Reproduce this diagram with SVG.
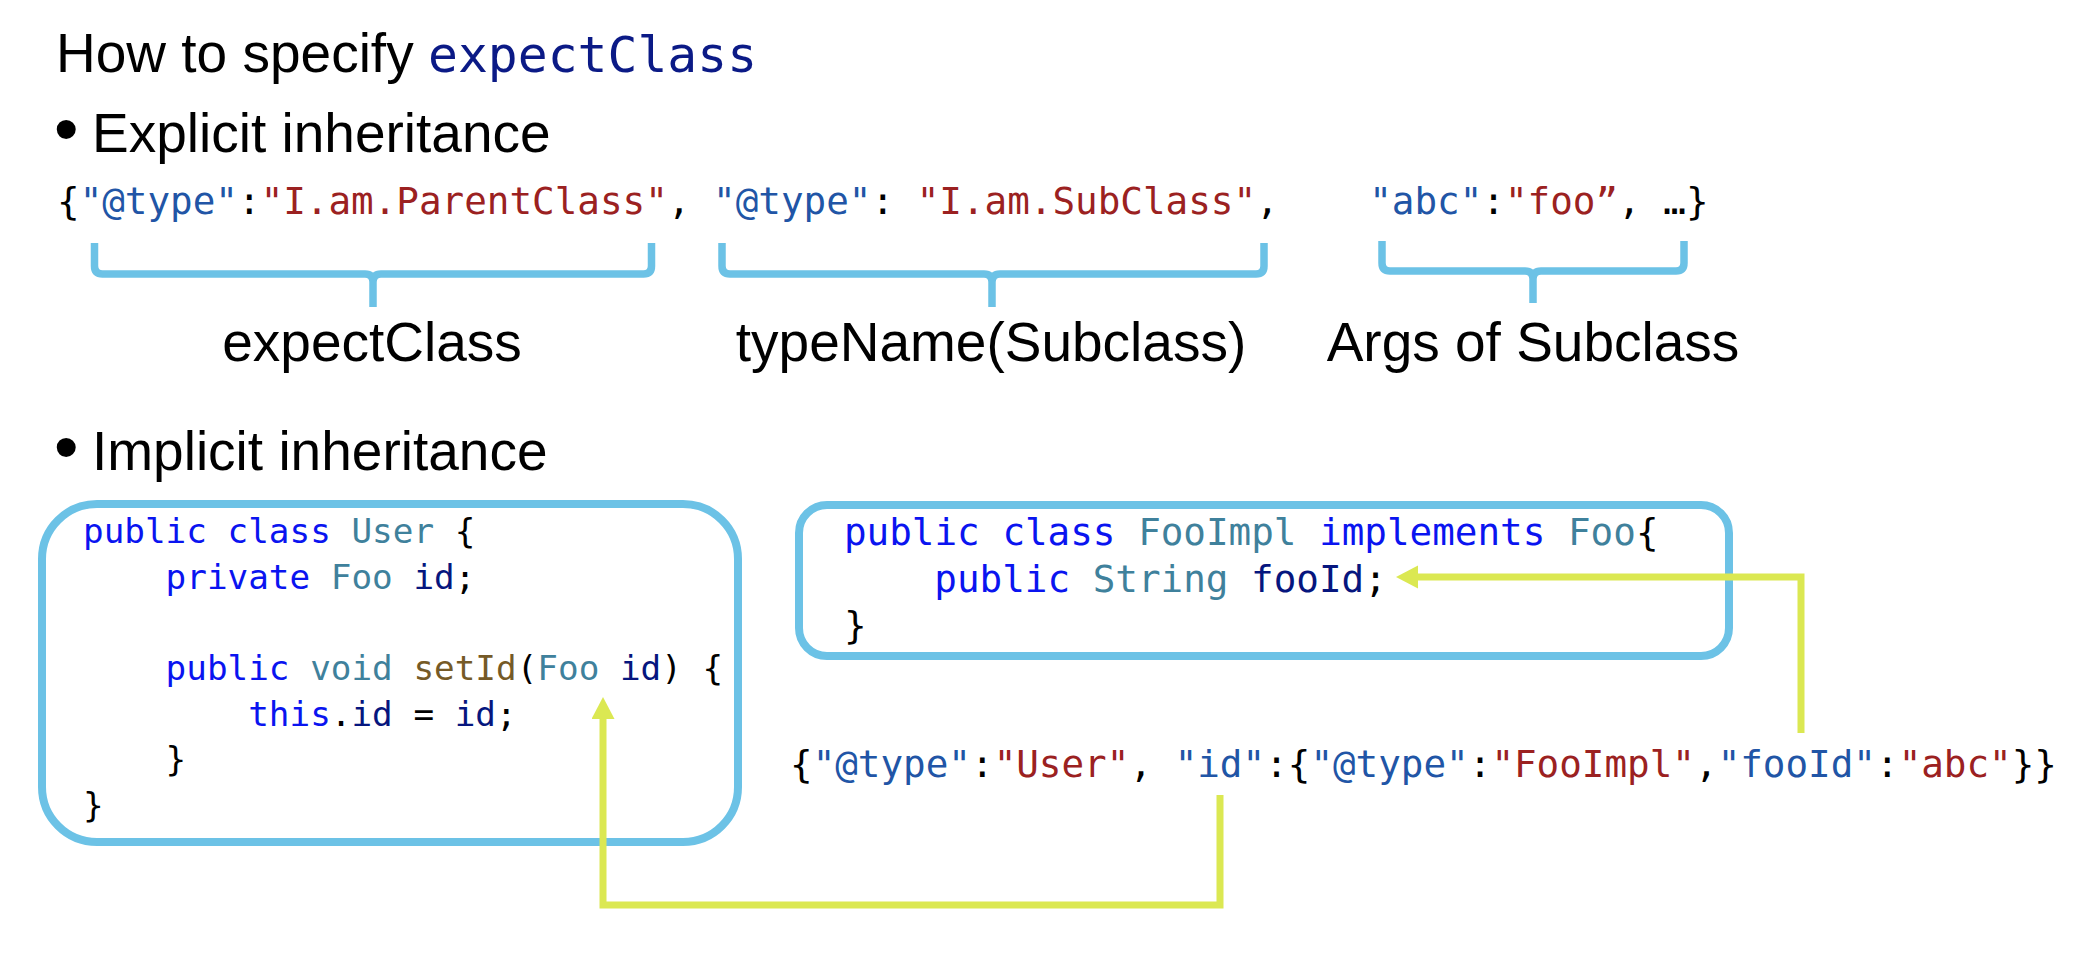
<svg xmlns="http://www.w3.org/2000/svg" width="2094" height="958" viewBox="0 0 2094 958">
<style>
.sans{font-family:"Liberation Sans",Arial,sans-serif;fill:#000}
.h{font-size:55px}
.lbl{font-size:55px;text-anchor:middle}
.mono{font-family:"DejaVu Sans Mono","Liberation Mono",monospace;fill:#000}
.j{font-size:37.6px}
.c{font-size:34.3px}
.navy{fill:#0b1a86;font-size:49.7px}
.key{fill:#2155a6}
.str{fill:#9b2121}
.kw{fill:#0a14f0}
.ty{fill:#3f819c}
.id{fill:#06167e}
.fn{fill:#755a27}
.brace{fill:none;stroke:#6cc2e6;stroke-width:7.5;stroke-linejoin:round}
.box{fill:none;stroke:#6cc2e6;stroke-width:8}
.conn{fill:none;stroke:#dbe852;stroke-width:7;stroke-linejoin:miter;stroke-linecap:butt}
</style>
<defs>
<marker id="ah" markerUnits="userSpaceOnUse" markerWidth="24" markerHeight="24" refX="10" refY="11.5" orient="auto" viewBox="0 0 24 24">
<path d="M0,0 L22,11.5 L0,23 z" fill="#dbe852"/>
</marker>
</defs>
<rect width="2094" height="958" fill="#fff"/>

<g id="title">
<text class="sans h" x="56" y="72">How to specify</text>
<text class="mono navy" x="428" y="72">expectClass</text>
</g>

<g id="heading-explicit">
<text class="sans" x="54" y="153" font-size="70">•</text>
<text class="sans h" x="92" y="152">Explicit inheritance</text>
</g>

<g id="json-explicit">
<text class="mono j" x="57" y="214" xml:space="preserve">{<tspan class="key">"@type"</tspan>:<tspan class="str">"I.am.ParentClass"</tspan>, <tspan class="key">"@type"</tspan>: <tspan class="str">"I.am.SubClass"</tspan>,    <tspan class="key">"abc"</tspan>:<tspan class="str">"foo”</tspan>, …}</text>
</g>

<g id="brace-expectClass">
<path class="brace" d="M94.5,243 V266 Q94.5,274 102.5,274 H365 Q373,274 373,282 V307 M373,282 Q373,274 381,274 H643.5 Q651.5,274 651.5,266 V243"/>
<text class="sans lbl" x="372" y="361">expectClass</text>
</g>

<g id="brace-typeName">
<path class="brace" d="M722,243 V266 Q722,274 730,274 H984 Q992,274 992,282 V307 M992,282 Q992,274 1000,274 H1256 Q1264,274 1264,266 V243"/>
<text class="sans lbl" x="991" y="361">typeName(Subclass)</text>
</g>

<g id="brace-args">
<path class="brace" d="M1382,241 V263 Q1382,271 1390,271 H1525 Q1533,271 1533,279 V303 M1533,279 Q1533,271 1541,271 H1676 Q1684,271 1684,263 V241"/>
<text class="sans lbl" x="1533" y="361">Args of Subclass</text>
</g>

<g id="heading-implicit">
<text class="sans" x="54" y="471" font-size="70">•</text>
<text class="sans h" x="92" y="470">Implicit inheritance</text>
</g>

<g id="box-user">
<rect class="box" x="42" y="504" width="696" height="338" rx="55" ry="55"/>
<text class="mono c" x="83" y="543"><tspan class="kw">public</tspan> <tspan class="kw">class</tspan> <tspan class="ty">User</tspan> {</text>
<text class="mono c" x="165.6" y="589"><tspan class="kw">private</tspan> <tspan class="ty">Foo</tspan> <tspan class="id">id</tspan>;</text>
<text class="mono c" x="165.6" y="680"><tspan class="kw">public</tspan> <tspan class="ty">void</tspan> <tspan class="fn">setId</tspan>(<tspan class="ty">Foo</tspan> <tspan class="id">id</tspan>) {</text>
<text class="mono c" x="248.2" y="726"><tspan class="kw">this</tspan>.<tspan class="id">id</tspan> = <tspan class="id">id</tspan>;</text>
<text class="mono c" x="165.6" y="771">}</text>
<text class="mono c" x="83" y="817">}</text>
</g>

<g id="box-fooimpl">
<rect class="box" x="799" y="505" width="930" height="151" rx="28" ry="28"/>
<text class="mono j" x="844" y="545"><tspan class="kw">public</tspan> <tspan class="kw">class</tspan> <tspan class="ty">FooImpl</tspan> <tspan class="kw">implements</tspan> <tspan class="ty">Foo</tspan>{</text>
<text class="mono j" x="934.3" y="592"><tspan class="kw">public</tspan> <tspan class="ty">String</tspan> <tspan class="id">fooId</tspan>;</text>
<text class="mono j" x="844" y="638">}</text>
</g>

<g id="json-implicit">
<text class="mono j" x="790" y="777" xml:space="preserve">{<tspan class="key">"@type"</tspan>:<tspan class="str">"User"</tspan>, <tspan class="key">"id"</tspan>:{<tspan class="key">"@type"</tspan>:<tspan class="str">"FooImpl"</tspan>,<tspan class="key">"fooId"</tspan>:<tspan class="str">"abc"</tspan>}}</text>
</g>

<g id="connectors">
<path class="conn" d="M1220,795 V905 H603 V709" marker-end="url(#ah)"/>
<path class="conn" d="M1801,733 V577 H1408" marker-end="url(#ah)"/>
</g>
</svg>
